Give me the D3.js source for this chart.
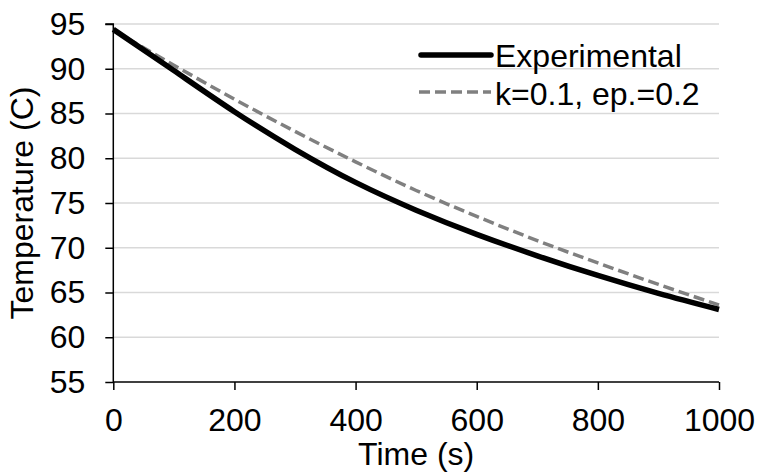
<!DOCTYPE html>
<html>
<head>
  <meta charset="utf-8">
  <title>Temperature vs time</title>
  <script src="https://d3js.org/d3.v7.min.js"></script>
  <style>
    body { margin: 0; background: #fff; }
    svg text { font-family: "Liberation Sans", Arial, sans-serif; fill: #000; }
  </style>
</head>
<body>
  <div id="chart"></div>
  <script>
    // data
    const times = [0, 100, 200, 300, 400, 500, 600, 700, 800, 900, 1000];
    const experimental = [94.4, 89.8, 85.2, 81.0, 77.3, 74.2, 71.5, 69.1, 66.9, 64.9, 63.1];
    const model = [94.3, 90.4, 86.6, 83.0, 79.6, 76.4, 73.5, 70.8, 68.3, 65.9, 63.6];
    const seriesNames = ["Experimental", "k=0.1, ep.=0.2"];
    const xTicks = [0, 200, 400, 600, 800, 1000];
    const yTicks = [55, 60, 65, 70, 75, 80, 85, 90, 95];

    const width = 757, height = 472;
    const margin = { top: 24, right: 38, bottom: 90, left: 113.3 };
    const fontSize = "32px";

    const svg = d3.select("#chart").append("svg")
      .attr("width", width)
      .attr("height", height);

    const x = d3.scaleLinear().domain([0, 1000]).range([margin.left, width - margin.right]);
    const y = d3.scaleLinear().domain([55, 95]).range([height - margin.bottom, margin.top]);

    // gridlines
    svg.append("g")
      .selectAll("line")
      .data(yTicks.slice(1))
      .join("line")
      .attr("x1", x(0)).attr("x2", x(1000))
      .attr("y1", d => y(d)).attr("y2", d => y(d))
      .attr("stroke", "#d9d9d9")
      .attr("stroke-width", 1.5);

    // axes
    const yAxis = svg.append("g")
      .attr("transform", `translate(${x(0)},0)`)
      .call(d3.axisLeft(y).tickValues(yTicks).tickSize(8).tickPadding(20));
    const xAxis = svg.append("g")
      .attr("transform", `translate(0,${y(55)})`)
      .call(d3.axisBottom(x).tickValues(xTicks).tickFormat(d3.format("d")).tickSize(8).tickPadding(18));

    [yAxis, xAxis].forEach(g => {
      g.select(".domain").attr("stroke", "#000").attr("stroke-width", 1.5);
      g.selectAll(".tick line").attr("stroke", "#000").attr("stroke-width", 1.5);
      g.selectAll(".tick text").style("font-size", fontSize).attr("fill", "#000");
    });
    yAxis.select(".domain").attr("d", `M-8,${y(95)}H0V${y(55)}`);
    xAxis.select(".domain").attr("d", `M${x(0)},0H${x(1000)}`);

    // axis titles
    svg.append("text")
      .attr("x", (x(0) + x(1000)) / 2)
      .attr("y", 465)
      .attr("text-anchor", "middle")
      .style("font-size", fontSize)
      .text("Time (s)");

    svg.append("text")
      .attr("transform", `translate(33,${(y(55) + y(95)) / 2}) rotate(-90)`)
      .attr("text-anchor", "middle")
      .style("font-size", fontSize)
      .text("Temperature (C)");

    // lines
    const line = vals => d3.line()
      .x((d, i) => x(times[i]))
      .y(d => y(d))
      .curve(d3.curveNatural)(vals);

    svg.append("path")
      .attr("d", line(model))
      .attr("fill", "none")
      .attr("stroke", "#808080")
      .attr("stroke-width", 3.5)
      .attr("stroke-dasharray", "11,5");

    svg.append("path")
      .attr("d", line(experimental))
      .attr("fill", "none")
      .attr("stroke", "#000")
      .attr("stroke-width", 5.5)
      .attr("stroke-linejoin", "round");

    // legend
    const legend = svg.append("g");
    legend.append("line")
      .attr("x1", 421).attr("x2", 491).attr("y1", 55).attr("y2", 55)
      .attr("stroke", "#000").attr("stroke-width", 5.5).attr("stroke-linecap", "round");
    legend.append("line")
      .attr("x1", 419).attr("x2", 491).attr("y1", 92).attr("y2", 92)
      .attr("stroke", "#808080").attr("stroke-width", 3.5).attr("stroke-dasharray", "11,5");
    legend.append("text")
      .attr("x", 495).attr("y", 67)
      .style("font-size", fontSize)
      .text(seriesNames[0]);
    legend.append("text")
      .attr("x", 495).attr("y", 105)
      .style("font-size", fontSize)
      .text(seriesNames[1]);
  </script>
</body>
</html>
